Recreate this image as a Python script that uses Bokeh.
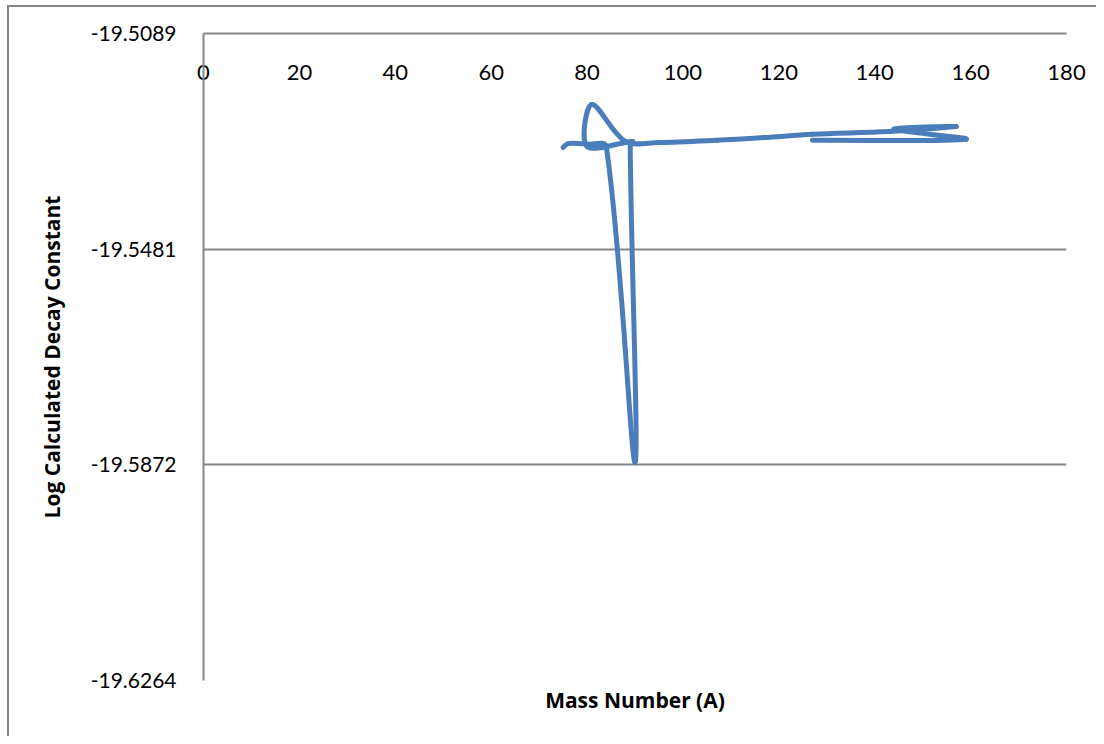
import math
from bokeh.plotting import figure
from bokeh.models import Range1d, FixedTicker, LinearAxis, PrintfTickFormatter
from bokeh.embed import file_html
from bokeh.resources import INLINE

# ---- data ----
mass_number = [75, 76, 80, 84, 90, 89, 89.5, 80, 81, 88, 95, 107, 117, 127, 143, 157, 144, 159, 127]
log_decay = [-19.5296, -19.5289, -19.5290, -19.5294, -19.5868, -19.5292, -19.5285,
             -19.5294, -19.5218, -19.5285, -19.5287, -19.5283, -19.5278, -19.5272,
             -19.5267, -19.5258, -19.5263, -19.5281, -19.5283]
x_ticks = [0, 20, 40, 60, 80, 100, 120, 140, 160, 180]
y_ticks = [-19.5089, -19.5481, -19.5872, -19.6264]

X0, X1 = 0, 180
Y0, Y1 = -19.6264, -19.5089
FW, FH = 863, 647  # frame size in px

BLUE = "#4A7EBB"
GREY = "#868686"
NUMFONT = "Lato"
TITLEFONT = "Open Sans"

p = figure(width=1096, height=736, output_backend="svg", toolbar_location=None,
           x_range=Range1d(X0, X1), y_range=Range1d(Y0, Y1),
           min_border_left=203, min_border_top=33, min_border_right=30,
           min_border_bottom=56, x_axis_location=None, y_axis_location=None)
# outer chart-area border (left and top edges visible in the reference)
p.styles = {
    "background-color": "white",
    "background-image": "linear-gradient(#868686, #868686), linear-gradient(#868686, #868686)",
    "background-size": "2px 100%, 100% 2px",
    "background-position": "7px 5px, 7px 5px",
    "background-repeat": "no-repeat",
}
p.outline_line_color = None
p.background_fill_color = "white"
p.border_fill_color = None

# smooth line (Excel-style bezier smoothing computed in pixel space)
kx = FW / (X1 - X0)
ky = FH / (Y1 - Y0)
px = [(x - X0) * kx for x in mass_number]
py = [(y - Y0) * ky for y in log_decay]
n = len(px)
L = [math.hypot(px[i + 1] - px[i], py[i + 1] - py[i]) for i in range(n - 1)]
f = 1.0 / 3.0


def tangent(i):
    a = max(i - 1, 0)
    b = min(i + 1, n - 1)
    return px[b] - px[a], py[b] - py[a]


sx0, sy0, sx1, sy1, scx0, scy0, scx1, scy1 = ([] for _ in range(8))
for i in range(n - 1):
    Lp = L[i - 1] if i > 0 else 0.0
    Ln = L[i + 1] if i + 1 < n - 1 else 0.0
    tx, ty = tangent(i)
    r1 = f * L[i] / (Lp + L[i])
    tx2, ty2 = tangent(i + 1)
    r2 = f * L[i] / (L[i] + Ln)
    c0x, c0y = px[i] + tx * r1, py[i] + ty * r1
    c1x, c1y = px[i + 1] - tx2 * r2, py[i + 1] - ty2 * r2
    sx0.append(mass_number[i]); sy0.append(log_decay[i])
    sx1.append(mass_number[i + 1]); sy1.append(log_decay[i + 1])
    scx0.append(c0x / kx + X0); scy0.append(c0y / ky + Y0)
    scx1.append(c1x / kx + X0); scy1.append(c1y / ky + Y0)

p.bezier(x0=sx0, y0=sy0, x1=sx1, y1=sy1, cx0=scx0, cy0=scy0, cx1=scx1, cy1=scy1,
         line_color=BLUE, line_width=5, line_cap="round")

# grids
p.xgrid.visible = False
p.ygrid.ticker = FixedTicker(ticks=y_ticks)
p.ygrid.grid_line_color = GREY
p.ygrid.grid_line_width = 2

# y axis
yax = LinearAxis(ticker=FixedTicker(ticks=y_ticks),
                 formatter=PrintfTickFormatter(format="%.4f"),
                 axis_label="Log Calculated Decay Constant")
yax.axis_line_color = GREY
yax.axis_line_width = 2
yax.major_tick_line_color = None
yax.minor_tick_line_color = None
yax.major_label_standoff = 21
yax.major_label_text_font = NUMFONT
yax.major_label_text_font_size = "21px"
yax.major_label_text_color = "black"
yax.axis_label_text_font = TITLEFONT
yax.axis_label_text_font_style = "bold"
yax.axis_label_text_font_size = "21px"
yax.axis_label_text_color = "black"
yax.axis_label_standoff = 22
p.add_layout(yax, "left")

# x axis title (bottom)
xlab = LinearAxis(ticker=FixedTicker(ticks=[]), axis_label="Mass Number (A)")
xlab.axis_line_color = None
xlab.major_tick_line_color = None
xlab.minor_tick_line_color = None
xlab.axis_label_text_font = TITLEFONT
xlab.axis_label_text_font_style = "bold"
xlab.axis_label_text_font_size = "21px"
xlab.axis_label_text_color = "black"
xlab.axis_label_standoff = 5
p.add_layout(xlab, "below")

# x axis crossing at the top of the value range, labels hanging below the line
xax = LinearAxis(ticker=FixedTicker(ticks=x_ticks))
xax.axis_line_color = GREY
xax.axis_line_width = 2
xax.major_tick_line_color = None
xax.minor_tick_line_color = None
xax.major_label_standoff = -52
xax.major_label_text_font = NUMFONT
xax.major_label_text_font_size = "22px"
xax.major_label_text_color = "black"
p.add_layout(xax, "above")

open("out.html", "w").write(file_html(p, INLINE))
